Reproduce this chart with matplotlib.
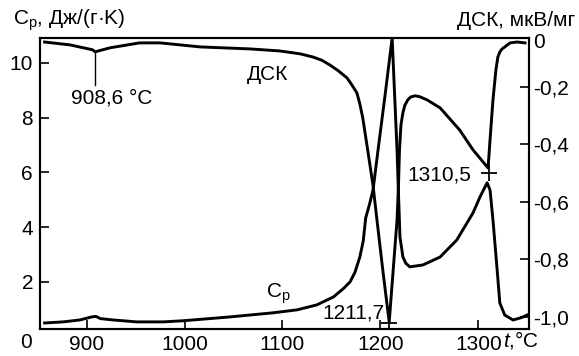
import numpy as np
import matplotlib
matplotlib.use("Agg")
import matplotlib.pyplot as plt

plt.rcParams['font.family'] = ['Liberation Sans', 'DejaVu Sans']
plt.rcParams['mathtext.fontset'] = 'custom'
plt.rcParams['mathtext.rm'] = 'Liberation Sans'
plt.rcParams['mathtext.it'] = 'Liberation Sans:italic'

# Теплоёмкость Cp, Дж/(г·K)
t_cp = [857, 876, 893, 905, 909.5, 914, 927, 951, 978, 998, 1046, 1090, 1115, 1135,
        1152, 1162, 1169, 1174, 1179, 1182.5, 1185, 1189, 1192.5, 1197.6, 1204.8, 1212,
        1217, 1218.5, 1220, 1223, 1226, 1230, 1243.5, 1261, 1278, 1294.6, 1301.7, 1309,
        1312, 1315, 1319, 1322, 1327, 1335.5, 1342.6, 1345.7, 1349.8]
cp = [0.50, 0.54, 0.61, 0.72, 0.74, 0.66, 0.61, 0.54, 0.54, 0.58, 0.72, 0.87, 0.98, 1.16,
      1.45, 1.75, 2.00, 2.35, 2.91, 3.50, 4.34, 4.85, 5.36, 6.82, 8.83, 10.91,
      6.82, 5.2, 3.64, 2.91, 2.68, 2.55, 2.62, 2.91, 3.53, 4.52, 5.10, 5.62,
      5.36, 4.26, 2.55, 1.23, 0.79, 0.61, 0.68, 0.72, 0.79]

# Сигнал ДСК, мкВ/мг
t_dsc = [857, 883, 906, 908.6, 924, 954, 975, 1016, 1067, 1097, 1118, 1131, 1140, 1148.5,
         1157, 1166, 1171, 1176, 1179, 1182, 1187, 1192.4, 1196.5, 1202.7, 1209, 1213,
         1217, 1218.5, 1219.5, 1221, 1223, 1225, 1228, 1231, 1235.4, 1240, 1247.6, 1261,
         1281, 1294.6, 1310, 1312, 1315, 1318, 1320, 1322, 1324, 1332.4, 1339.6, 1347.7]
dsc = [-0.045, -0.055, -0.072, -0.079, -0.065, -0.048, -0.048, -0.062, -0.069, -0.076,
       -0.086, -0.097, -0.108, -0.125, -0.145, -0.170, -0.195, -0.222, -0.260, -0.309,
       -0.420, -0.542, -0.664, -0.845, -1.019, -0.841, -0.664, -0.542, -0.420, -0.333,
       -0.291, -0.265, -0.246, -0.236, -0.232, -0.235, -0.246, -0.274, -0.351, -0.420,
       -0.483, -0.385, -0.246, -0.142, -0.097, -0.080, -0.070, -0.048, -0.045, -0.048]

x_ticks = [900, 1000, 1100, 1200, 1300]
cp_ticks = [2, 4, 6, 8, 10]
dsc_ticks = [-0.2, -0.4, -0.6, -0.8, -1.0]
dsc_labels = ['-0,2', '-0,4', '-0,6', '-0,8', '-1,0']

fig = plt.figure(figsize=(5.79, 3.56), dpi=100)
ax = fig.add_axes([40 / 579, 1 - 329 / 356, 489 / 579, 291 / 356])
ax2 = ax.twinx()

ax.plot(t_cp, cp, color='black', lw=2.1, solid_joinstyle='round')
ax2.plot(t_dsc, dsc, color='black', lw=2.1, solid_joinstyle='round')

ax.set_xlim(852.3, 1351.8)
ax.set_ylim(0.28, 10.91)
ax2.set_ylim(-1.043, -0.031)

ax.set_xticks(x_ticks)
ax.set_yticks(cp_ticks)
ax2.set_yticks(dsc_ticks)
ax2.set_yticklabels(dsc_labels)

fs = 15
for a in (ax, ax2):
    a.tick_params(direction='in', length=6.5, width=1.2, labelsize=fs)
    for s in a.spines.values():
        s.set_linewidth(1.5)
ax.tick_params(axis='y', pad=5)
ax.tick_params(axis='x', pad=4)
ax2.tick_params(axis='y', pad=3)

# подписи осей
fig.text(13 / 579, 1 - 20 / 356, 'C$_\\mathrm{p}$, Дж/(г·K)', fontsize=fs, ha='left', va='center')
fig.text(575 / 579, 1 - 20 / 356, 'ДСК, мкВ/мг', fontsize=fs, ha='right', va='center')
fig.text(503 / 579, 1 - 340 / 356, '$\\it{t}$,°C', fontsize=fs, ha='left', va='center')
fig.text(26 / 579, 1 - 342 / 356, '0', fontsize=fs, ha='center', va='center')
fig.text(533 / 579, 1 - 42 / 356, '0', fontsize=fs, ha='left', va='center')

# аннотации
ax2.plot([908.6, 908.6], [-0.079, -0.194], color='black', lw=1.0)
ax2.text(926, -0.24, '908,6 °C', fontsize=fs, ha='center', va='center')
ax2.text(1085, -0.159, 'ДСК', fontsize=fs, ha='center', va='center')
ax.text(1083, 1.55, 'C$_\\mathrm{p}$', fontsize=fs, ha='left', va='center')
ax2.plot([1209], [-1.022], marker='+', color='black', ms=12, mew=1.3)
ax2.text(1204, -0.987, '1211,7', fontsize=fs, ha='right', va='center')
ax2.plot([1310.5], [-0.50], marker='+', color='black', ms=12, mew=1.3)
ax2.text(1293, -0.507, '1310,5', fontsize=fs, ha='right', va='center')

fig.savefig('out.png', dpi=100)
